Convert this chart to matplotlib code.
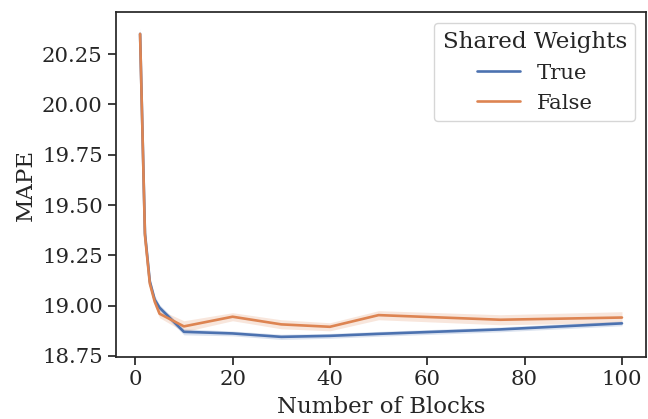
import numpy as np
import matplotlib
matplotlib.use('Agg')
import matplotlib.pyplot as plt
import seaborn as sns

sns.set_theme(style='ticks')
plt.rcParams['font.family'] = ['DejaVu Serif']

# データ
blocks = [1, 2, 3, 4, 5, 10, 20, 30, 40, 50, 75, 100]

true_mean = [20.35, 19.36, 19.12, 19.03, 18.99, 18.870, 18.862, 18.845, 18.850, 18.860, 18.882, 18.912]
true_lo = [20.32, 19.34, 19.10, 19.01, 18.975, 18.855, 18.850, 18.832, 18.838, 18.848, 18.870, 18.900]
true_hi = [20.38, 19.38, 19.14, 19.05, 19.005, 18.885, 18.874, 18.858, 18.862, 18.872, 18.894, 18.924]

false_mean = [20.35, 19.35, 19.11, 19.02, 18.96, 18.897, 18.945, 18.907, 18.895, 18.953, 18.930, 18.941]
false_lo = [20.32, 19.33, 19.09, 19.00, 18.94, 18.870, 18.925, 18.885, 18.875, 18.930, 18.905, 18.915]
false_hi = [20.38, 19.37, 19.13, 19.04, 18.98, 18.925, 18.965, 18.930, 18.915, 18.975, 18.955, 18.970]

colors = sns.color_palette('deep')

fig = plt.figure(figsize=(6.48, 4.19), dpi=100)
ax = fig.add_axes([0.179, 0.148, 0.818, 0.823])

ax.plot(blocks, true_mean, color=colors[0], lw=1.9, label='True')
ax.fill_between(blocks, true_lo, true_hi, color=colors[0], alpha=0.2, lw=0)
ax.plot(blocks, false_mean, color=colors[1], lw=1.9, label='False')
ax.fill_between(blocks, false_lo, false_hi, color=colors[1], alpha=0.2, lw=0)

ax.set_ylim(18.745, 20.458)
ax.set_yticks([18.75, 19.0, 19.25, 19.5, 19.75, 20.0, 20.25])
ax.set_xticks([0, 20, 40, 60, 80, 100])
ax.tick_params(labelsize=15.3, length=6, width=1.25)
for s in ax.spines.values():
    s.set_linewidth(1.25)

ax.set_xlabel('Number of Blocks', fontsize=16.5, labelpad=5)
ax.set_ylabel('MAPE', fontsize=16.5)

leg = ax.legend(title='Shared Weights', loc='upper right', fontsize=15.3, title_fontsize=16.6)

fig.savefig('out.png', dpi=100)
